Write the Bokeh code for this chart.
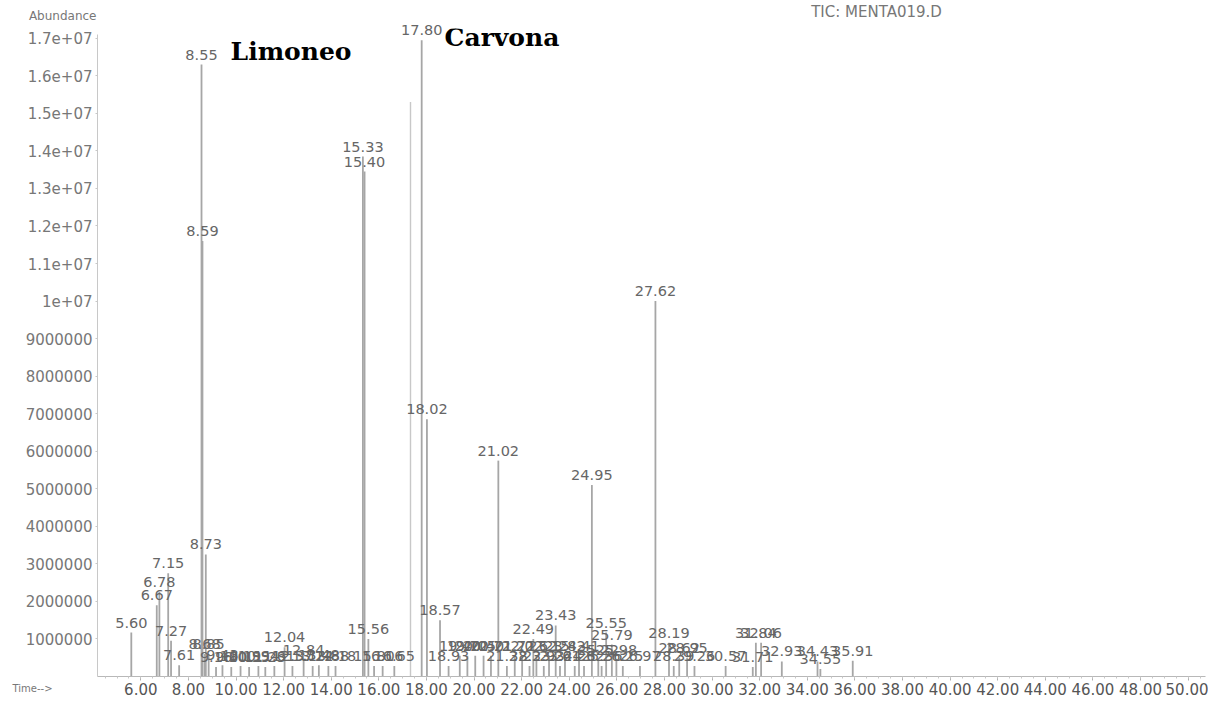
from bokeh.plotting import figure
from bokeh.models import FixedTicker, NumeralTickFormatter, Label, ColumnDataSource, Range1d
from bokeh.core.properties import value
from bokeh.embed import file_html
from bokeh.resources import INLINE

# Retention times (min) of the labelled peaks and their abundances
peak_times = [5.60, 6.67, 6.78, 7.15, 7.27, 7.61, 8.55, 8.59, 8.68, 8.73, 8.85,
              9.16, 9.43, 9.80, 10.19, 10.55, 10.94, 11.23, 11.61, 12.04, 12.37,
              12.84, 13.22, 13.48, 13.88, 14.18, 15.33, 15.40, 15.56, 15.80, 16.16,
              16.65, 17.80, 18.02, 18.57, 18.93, 19.40, 19.72, 20.05, 20.40, 20.71,
              21.02, 21.38, 21.71, 22.02, 22.33, 22.49, 22.62, 22.93, 23.15, 23.43,
              23.61, 23.82, 24.23, 24.41, 24.62, 24.95, 25.22, 25.36, 25.55, 25.79,
              25.98, 26.25, 26.97, 27.62, 28.19, 28.39, 28.62, 28.95, 29.26, 30.57,
              31.71, 31.84, 32.06, 32.93, 34.43, 34.55, 35.91]
peak_abundance = [1170000, 1900000, 2250000, 2750000, 950000, 300000, 16300000, 11600000, 600000, 3250000, 600000,
                  250000, 300000, 250000, 280000, 250000, 280000, 250000, 280000, 780000, 280000,
                  450000, 280000, 300000, 280000, 280000, 13850000, 13450000, 1000000, 280000, 280000,
                  280000, 16950000, 6850000, 1500000, 280000, 550000, 550000, 550000, 550000, 550000,
                  5750000, 280000, 550000, 550000, 280000, 1000000, 550000, 280000, 550000, 1360000,
                  280000, 550000, 280000, 550000, 280000, 5100000, 450000, 280000, 1170000, 850000,
                  450000, 280000, 280000, 10000000, 900000, 280000, 500000, 500000, 280000, 280000,
                  250000, 900000, 900000, 400000, 400000, 200000, 420000]

# Unlabelled edge of the overloaded carvone peak
shoulder_times = [17.33]
shoulder_abundance = [15300000]

y_tick_values = [1000000, 2000000, 3000000, 4000000, 5000000, 6000000, 7000000, 8000000,
                 9000000, 10000000, 11000000, 12000000, 13000000, 14000000, 15000000,
                 16000000, 17000000]
y_tick_labels = ["1000000", "2000000", "3000000", "4000000", "5000000", "6000000", "7000000",
                 "8000000", "9000000", "1e+07", "1.1e+07", "1.2e+07", "1.3e+07", "1.4e+07",
                 "1.5e+07", "1.6e+07", "1.7e+07"]
x_tick_values = [6, 8, 10, 12, 14, 16, 18, 20, 22, 24, 26, 28, 30, 32, 34, 36, 38, 40,
                 42, 44, 46, 48, 50]

src = ColumnDataSource(dict(rt=peak_times, ab=peak_abundance,
                            lab=["%.2f" % t for t in peak_times]))
src2 = ColumnDataSource(dict(rt=shoulder_times, ab=shoulder_abundance))

p = figure(width=1208, height=700, output_backend="svg", toolbar_location=None,
           x_range=Range1d(4.18, 50.73), y_range=Range1d(0, 17260000),
           min_border_left=97, min_border_right=3, min_border_top=28, min_border_bottom=24)
p.outline_line_color = None
p.grid.grid_line_color = None
p.background_fill_color = "white"

line_col = "#a6a6a6"
p.segment(x0="rt", y0=0, x1="rt", y1="ab", source=src, line_color=line_col, line_width=1.8)
p.segment(x0="rt", y0=0, x1="rt", y1="ab", source=src2, line_color="#c8c8c8", line_width=1.4)

# peak labels on the overlay level so the top one is not clipped by the frame
p.text(x="rt", y="ab", text="lab", source=src, text_align="center", text_baseline="bottom",
       y_offset=-5, text_font=value("DejaVu Sans"), text_font_size="14.5px", text_color="#666666",
       level="overlay")

# axes
p.yaxis.ticker = FixedTicker(ticks=y_tick_values)
p.yaxis.major_label_overrides = dict(zip(y_tick_values, y_tick_labels))
p.yaxis.bounds = (0, 17100000)
p.yaxis.axis_line_color = "#c8c8c8"
p.yaxis.major_tick_line_color = "#c8c8c8"
p.yaxis.major_tick_out = 2
p.yaxis.major_tick_in = 0
p.yaxis.minor_tick_line_color = None
p.yaxis.major_label_standoff = 3
p.yaxis.major_label_text_font = "DejaVu Sans"
p.yaxis.major_label_text_font_size = "15px"
p.yaxis.major_label_text_color = "#777777"

p.xaxis.ticker = FixedTicker(ticks=x_tick_values,
                             minor_ticks=[4.5 + 0.5 * i for i in range(93)])
p.xaxis.formatter = NumeralTickFormatter(format="0.00")
p.xaxis.axis_line_color = "#b8b8b8"
p.xaxis.major_tick_line_color = "#b0b0b0"
p.xaxis.minor_tick_line_color = "#c8c8c8"
p.xaxis.major_tick_out = 4
p.xaxis.major_tick_in = 0
p.xaxis.minor_tick_out = 2
p.xaxis.minor_tick_in = 0
p.xaxis.major_label_standoff = 2
p.xaxis.major_label_text_font = "DejaVu Sans"
p.xaxis.major_label_text_font_size = "15px"
p.xaxis.major_label_text_color = "#555555"

# annotations
p.add_layout(Label(x=9.77, y=16650000, text="Limoneo", text_font="DejaVu Serif",
                   text_font_style="bold", text_font_size="25px", text_color="black",
                   text_baseline="middle"))
p.add_layout(Label(x=18.76, y=17020000, text="Carvona", text_font="DejaVu Serif",
                   text_font_style="bold", text_font_size="25px", text_color="black",
                   text_baseline="middle"))

# texts outside the frame: overlay-level text glyphs (not clipped to the frame)
p.text(x=[4.138], y=[17580000], text=["Abundance"], text_align="right", text_baseline="middle",
       text_font=value("DejaVu Sans"), text_font_size="12px", text_color="#777777", level="overlay")
p.text(x=[36.91], y=[17710000], text=["TIC: MENTA019.D"], text_align="center", text_baseline="middle",
       text_font=value("DejaVu Sans"), text_font_size="15px", text_color="#777777", level="overlay")
p.text(x=[0.61], y=[-320000], text=["Time-->"], text_align="left", text_baseline="middle",
       text_font=value("DejaVu Sans"), text_font_size="10px", text_color="#777777", level="overlay")

open("out.html", "w").write(file_html(p, INLINE))
